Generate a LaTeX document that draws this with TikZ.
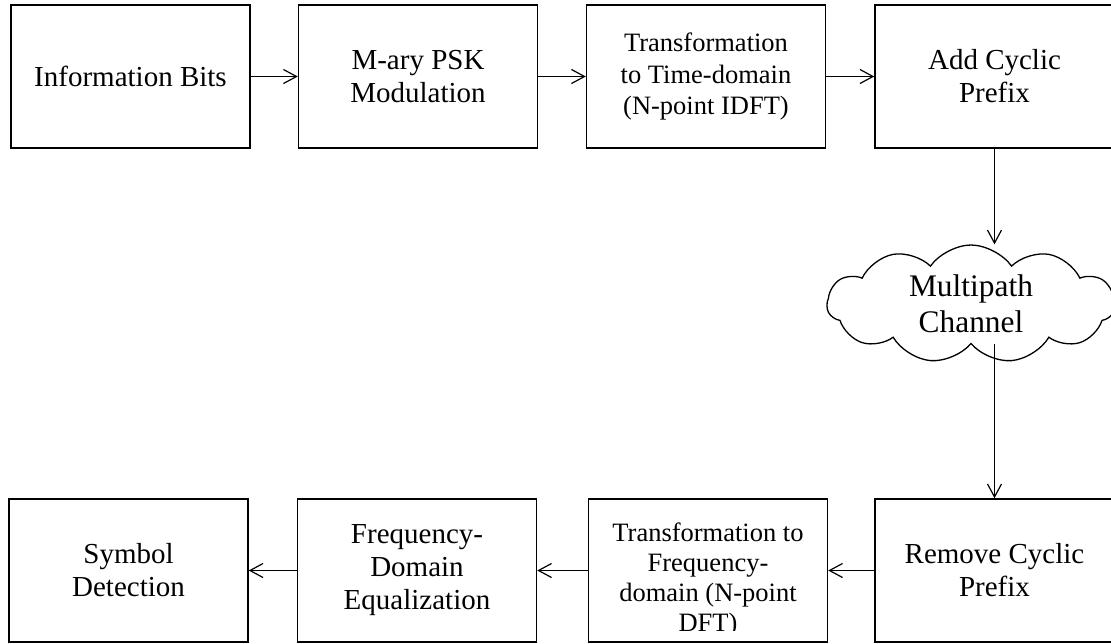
\documentclass[tikz,border=0pt]{standalone}
\usepackage{fontspec}
\setmainfont{Liberation Serif}
\usetikzlibrary{arrows.meta,shapes.symbols}
\tikzset{
  block/.style={draw, line width=1.5pt, minimum width=239pt, minimum height=143pt,
    inner sep=0pt, align=center, font=\fontsize{29}{33}\selectfont},
  smalltext/.style={font=\fontsize{26.5}{31.5}\selectfont},
  bare/.style={inner sep=0pt, align=center},
  flow/.style={line width=1.2pt, -{Straight Barb[length=13pt,width=14pt]}},
  channel/.style={cloud, draw, line width=1.3pt, cloud puffs=11, cloud puff arc=110,
    cloud ignores aspect, minimum width=288pt, minimum height=118pt, inner sep=0pt,
    align=center, font=\fontsize{31.4}{36}\selectfont},
}
\begin{document}
\begin{tikzpicture}[x=1pt,y=-1pt]
\clip (0,0) rectangle (1111,643);

% transmitter chain
\node[block] (bits) at (130.5,76.5) {Information Bits};
\node[block] (psk)  at (418,76.5)   {M-ary PSK\\Modulation};
\node[block, smalltext] (idft) at (706,76.5) {Transformation\\to Time-domain\\(N-point IDFT)};
\node[block] (acp)  at (994.5,76.5) {Add Cyclic\\Prefix};

% channel
\node[channel] (chan) at (971,304) {Multipath\\Channel};

% receiver chain
\node[block] (rcp)  at (994.5,570.5) {Remove Cyclic\\Prefix};
\node[block] (dft)  at (708,570.5)   {};
\begin{scope}
  % the last line runs past the text area and is cut at its baseline
  \clip (588,499) rectangle (828,630.5);
  \node[bare, anchor=base, font=\fontsize{26.5}{30}\selectfont] (dfttext) at (708,631)
    {Transformation to\\Frequency-\\domain (N-point\\DFT)};
\end{scope}
\node[block] (fde)  at (417,570.5)   {Frequency-\\Domain\\Equalization};
\node[block] (det)  at (128.5,570.5) {Symbol\\Detection};

% connectors
\draw[flow] (bits) -- (psk);
\draw[flow] (psk) -- (idft);
\draw[flow] (idft) -- (acp);
\draw[flow] (acp.south) -- (acp.south |- chan.north);
\draw[flow] (chan.south -| rcp.north) -- (rcp.north);
\draw[flow] (rcp) -- (dft);
\draw[flow] (dft) -- (fde);
\draw[flow] (fde) -- (det);
\end{tikzpicture}
\end{document}
